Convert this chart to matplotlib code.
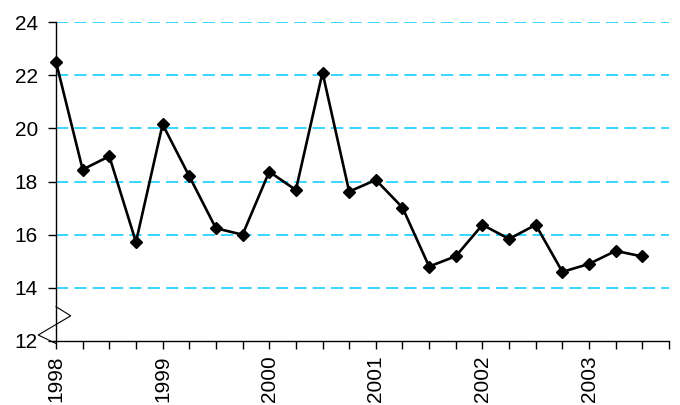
import matplotlib.pyplot as plt

# quarterly values, 1998 Q1 .. 2003 Q3
values = [22.5, 18.45, 18.95, 15.72,
          20.15, 18.2, 16.24, 16.0,
          18.37, 17.68, 22.1, 17.62,
          18.06, 17.02, 14.8, 15.19,
          16.37, 15.84, 16.37, 14.6,
          14.9, 15.39, 15.18]
years = ["1998", "1999", "2000", "2001", "2002", "2003"]
n_slots = 24

plt.rcParams['font.family'] = ['Liberation Sans', 'DejaVu Sans']

fig = plt.figure(figsize=(6.8, 4.05), dpi=100)
ax = fig.add_axes([56 / 680, 1 - 341 / 405, 613 / 680, 319 / 405])

idx = list(range(len(values)))
ax.plot(idx, values, color="black", linewidth=1.9, marker="D",
        markersize=6.5, zorder=3, clip_on=False)

ax.set_xlim(0, n_slots - 1)
ax.set_ylim(12, 24)
ax.set_yticks(range(12, 25, 2))
ax.set_xticks([4 * i for i in range(len(years))])
ax.set_xticklabels(years, rotation=90)
ax.set_xticks(range(n_slots), minor=True)

for y in range(14, 25, 2):
    ax.axhline(y, color="#00CCFF", linewidth=1.1, linestyle=(0, (8, 4)),
               zorder=1)

ax.spines["top"].set_visible(False)
ax.spines["right"].set_visible(False)
ax.spines["left"].set_linewidth(1.0)
ax.spines["bottom"].set_linewidth(1.0)

ax.tick_params(axis="both", which="both", direction="out", length=6,
               width=1.0, labelsize=15, colors="black")
ax.tick_params(axis="x", pad=4.5)
ax.tick_params(axis="y", pad=7)

# axis break zigzag near the bottom of the value axis
ax.plot([0.0, 0.024, -0.029, 0.0], [0.1075, 0.079, 0.0188, -0.008],
        transform=ax.transAxes, color="black", linewidth=0.8,
        clip_on=False, zorder=4)

plt.savefig("out.png", dpi=100)
plt.close()
